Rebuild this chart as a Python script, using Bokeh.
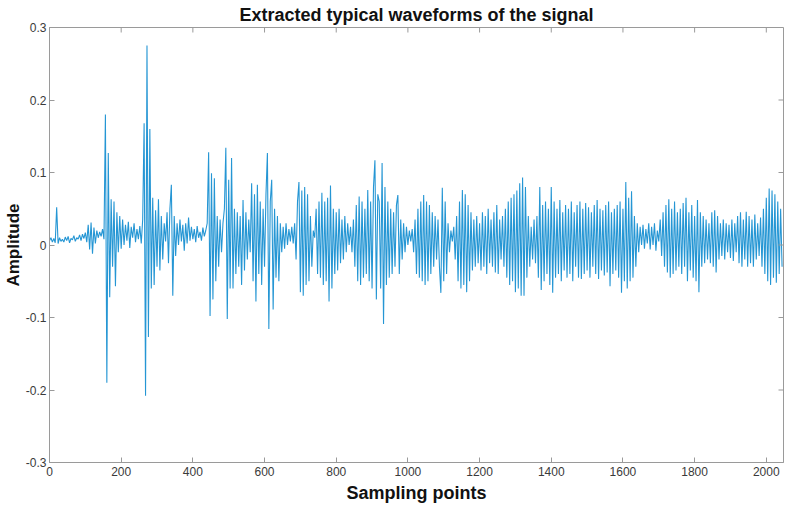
import math
from bokeh.plotting import figure
from bokeh.models import Range1d, FixedTicker
from bokeh.embed import file_html
from bokeh.resources import INLINE

# ---- data (one value every 4 sampling points) ----
sample_step = 4
amplitude = [
    0.006, 0.010, 0.004, 0.009, 0.003, 0.052, 0.002, 0.010, 0.005, 0.008,
    0.004, 0.011, 0.006, 0.012, 0.003, 0.009, 0.007, 0.013, 0.005, 0.010,
    0.008, 0.014, 0.006, 0.015, 0.009, 0.017, 0.004, 0.028, -0.006, 0.031,
    -0.012, 0.024, 0.002, 0.020, 0.010, 0.018, 0.012, 0.022, 0.008, 0.180,
    -0.190, 0.127, -0.072, 0.063, -0.030, 0.060, -0.057, 0.045, -0.010, 0.040,
    -0.005, 0.035, 0.000, 0.028, 0.006, 0.032, -0.004, 0.025, 0.010, 0.030,
    0.004, 0.022, 0.008, 0.026, 0.002, 0.035, 0.168, -0.208, 0.275, -0.127,
    0.160, -0.060, 0.065, -0.055, 0.048, -0.030, 0.063, -0.035, 0.040, -0.020,
    0.030, 0.005, 0.045, -0.025, 0.050, 0.083, -0.070, 0.040, -0.015, 0.030,
    0.000, 0.035, 0.005, 0.028, -0.008, 0.030, 0.002, 0.038, 0.006, 0.025,
    0.008, 0.022, 0.004, 0.026, 0.010, 0.018, 0.006, 0.024, 0.012, 0.020,
    0.030, 0.128, -0.098, 0.099, -0.075, 0.092, -0.050, 0.040, -0.030, 0.035,
    -0.010, 0.030, 0.050, 0.134, -0.102, 0.090, -0.060, 0.120, -0.060, 0.050,
    -0.040, 0.045, -0.030, 0.040, -0.055, 0.062, -0.035, 0.045, -0.020, 0.035,
    -0.010, 0.085, -0.050, 0.070, -0.078, 0.083, -0.040, 0.060, -0.055, 0.050,
    -0.030, 0.070, 0.127, -0.116, 0.060, 0.090, -0.089, 0.050, -0.045, 0.040,
    -0.050, 0.030, -0.010, 0.025, -0.005, 0.030, 0.000, 0.022, 0.005, 0.025,
    0.002, 0.030, -0.020, 0.060, 0.087, -0.065, 0.075, -0.070, 0.080, -0.055,
    0.070, -0.050, 0.040, -0.030, 0.020, 0.010, 0.050, -0.040, 0.060, -0.045,
    0.072, -0.055, 0.060, -0.050, 0.065, -0.078, 0.082, -0.060, 0.050, -0.040,
    0.045, -0.035, 0.050, -0.025, 0.035, -0.020, 0.040, -0.010, 0.030, 0.000,
    0.025, -0.010, 0.035, -0.030, 0.055, -0.050, 0.067, -0.055, 0.060, -0.045,
    0.050, -0.040, 0.076, -0.050, 0.060, -0.060, 0.080, 0.117, -0.075, 0.070,
    0.060, -0.060, 0.113, -0.109, 0.080, -0.055, 0.060, -0.045, 0.050, -0.040,
    0.045, -0.030, 0.055, 0.069, -0.040, 0.035, -0.020, 0.030, -0.010, 0.025,
    0.000, 0.020, 0.005, 0.022, -0.010, 0.035, -0.040, 0.050, -0.045, 0.060,
    -0.050, 0.069, -0.055, 0.060, -0.050, 0.055, -0.040, 0.045, -0.030, 0.040,
    -0.020, 0.035, -0.030, -0.066, 0.079, -0.050, 0.060, -0.040, 0.030, -0.010,
    0.020, 0.005, 0.025, -0.020, 0.040, -0.050, 0.060, -0.060, 0.076, -0.055,
    0.070, -0.065, 0.055, -0.050, 0.045, -0.035, 0.035, -0.030, 0.040, -0.025,
    0.030, -0.035, 0.045, -0.030, 0.040, -0.040, 0.050, -0.025, 0.035, -0.030,
    0.045, -0.038, 0.055, -0.040, 0.035, -0.020, 0.040, -0.030, 0.050, -0.045,
    0.060, -0.055, 0.065, -0.050, 0.070, -0.065, 0.075, -0.060, 0.085, -0.070,
    0.093, -0.070, 0.080, -0.045, 0.040, -0.030, 0.025, -0.020, 0.035, -0.025,
    0.040, -0.045, 0.080, -0.062, 0.055, -0.050, 0.060, -0.040, 0.050, -0.055,
    0.080, -0.066, 0.060, -0.045, 0.050, -0.040, 0.062, -0.050, 0.045, -0.035,
    0.055, -0.045, 0.050, -0.040, 0.060, -0.050, 0.045, -0.030, 0.055, -0.045,
    0.060, -0.047, 0.050, -0.040, 0.058, -0.035, 0.052, -0.045, 0.045, -0.030,
    0.055, -0.040, 0.062, -0.047, 0.050, -0.035, 0.048, -0.042, 0.055, -0.038,
    0.060, -0.057, 0.045, -0.040, 0.050, -0.035, 0.055, -0.045, 0.060, -0.066,
    0.050, -0.050, 0.087, -0.060, 0.065, -0.050, 0.074, -0.045, 0.040, -0.030,
    0.030, -0.010, 0.025, 0.000, 0.028, -0.005, 0.022, 0.002, 0.030, -0.006,
    0.025, 0.000, 0.030, -0.008, 0.020, 0.005, 0.035, -0.015, 0.045, -0.030,
    0.055, -0.038, 0.063, -0.045, 0.050, -0.040, 0.060, -0.035, 0.045, -0.030,
    0.050, -0.040, 0.058, -0.030, 0.065, -0.050, 0.045, -0.035, 0.055, -0.045,
    0.040, -0.050, 0.062, -0.065, 0.045, -0.030, 0.040, -0.025, 0.035, -0.020,
    0.030, -0.025, 0.045, -0.030, 0.048, -0.038, 0.040, -0.020, 0.030, -0.015,
    0.035, -0.020, 0.030, -0.010, 0.028, -0.018, 0.035, -0.022, 0.030, -0.010,
    0.040, -0.025, 0.045, -0.030, 0.035, -0.020, 0.046, -0.030, 0.040, -0.025,
    0.035, -0.030, 0.042, -0.020, 0.030, -0.015, 0.038, -0.030, 0.050, -0.040,
    0.065, -0.050, 0.078, -0.055, 0.075, -0.045, 0.070, -0.052, 0.060, -0.040,
    0.050, -0.030,
]
sampling_points = list(range(0, sample_step * len(amplitude), sample_step))

x_min, x_max = 0, 2048
y_min, y_max = -0.3, 0.3
x_ticks = [0, 200, 400, 600, 800, 1000, 1200, 1400, 1600, 1800, 2000]
y_ticks = [-0.3, -0.2, -0.1, 0, 0.1, 0.2, 0.3]
y_tick_labels = ["-0.3", "-0.2", "-0.1", "0", "0.1", "0.2", "0.3"]

title_text = "Extracted typical waveforms of the signal"
x_label = "Sampling points"
y_label = "Amplitude"

FONT = "Liberation Sans"
AXIS_GRAY = "#9a9a9a"
LABEL_GRAY = "#3a3a3a"
LINE_BLUE = "#2596d4"

p = figure(
    frame_width=734, frame_height=435,
    x_range=Range1d(x_min, x_max), y_range=Range1d(y_min, y_max),
    output_backend="svg", toolbar_location=None,
    min_border_left=42, min_border_right=6, min_border_top=26, min_border_bottom=51,
    title=title_text,
)
p.title.align = "center"
p.title.text_font = FONT
p.title.text_font_size = "18px"
p.title.text_font_style = "bold"
p.title.text_color = "#111111"
p.title.standoff = 5
p.title.offset = 0

p.grid.visible = False
p.outline_line_color = AXIS_GRAY
p.background_fill_color = "white"
p.border_fill_color = "white"

p.line(sampling_points, amplitude, line_color=LINE_BLUE, line_width=1.1)

def style_axis(ax):
    ax.axis_line_color = AXIS_GRAY
    ax.major_tick_line_color = AXIS_GRAY
    ax.major_tick_in = 5
    ax.major_tick_out = 0
    ax.minor_tick_line_color = None
    ax.major_label_text_font = FONT
    ax.major_label_text_color = LABEL_GRAY
    ax.major_label_text_font_size = "12px"
    ax.major_label_standoff = 4
    ax.axis_label_text_font = FONT
    ax.axis_label_text_font_style = "bold"
    ax.axis_label_text_color = "#111111"

xa = p.xaxis[0]
ya = p.yaxis[0]
xa.ticker = FixedTicker(ticks=x_ticks)
ya.ticker = FixedTicker(ticks=y_ticks)
ya.major_label_overrides = {t: l for t, l in zip(y_ticks, y_tick_labels)}
xa.axis_label = x_label
ya.axis_label = y_label
style_axis(xa)
style_axis(ya)
xa.axis_label_text_font_size = "18px"
ya.axis_label_text_font_size = "17px"
xa.axis_label_standoff = 4
ya.axis_label_standoff = 0
ya.major_label_standoff = 3

# MATLAB-style box: inward tick marks on the top and right edges
p.ray(x=x_ticks, y=[y_max] * len(x_ticks), length=5, length_units="screen",
      angle=-math.pi / 2, line_color=AXIS_GRAY, line_width=1)
p.ray(x=[x_max] * len(y_ticks), y=y_ticks, length=5, length_units="screen",
      angle=math.pi, line_color=AXIS_GRAY, line_width=1)

open("out.html", "w").write(file_html(p, INLINE))
